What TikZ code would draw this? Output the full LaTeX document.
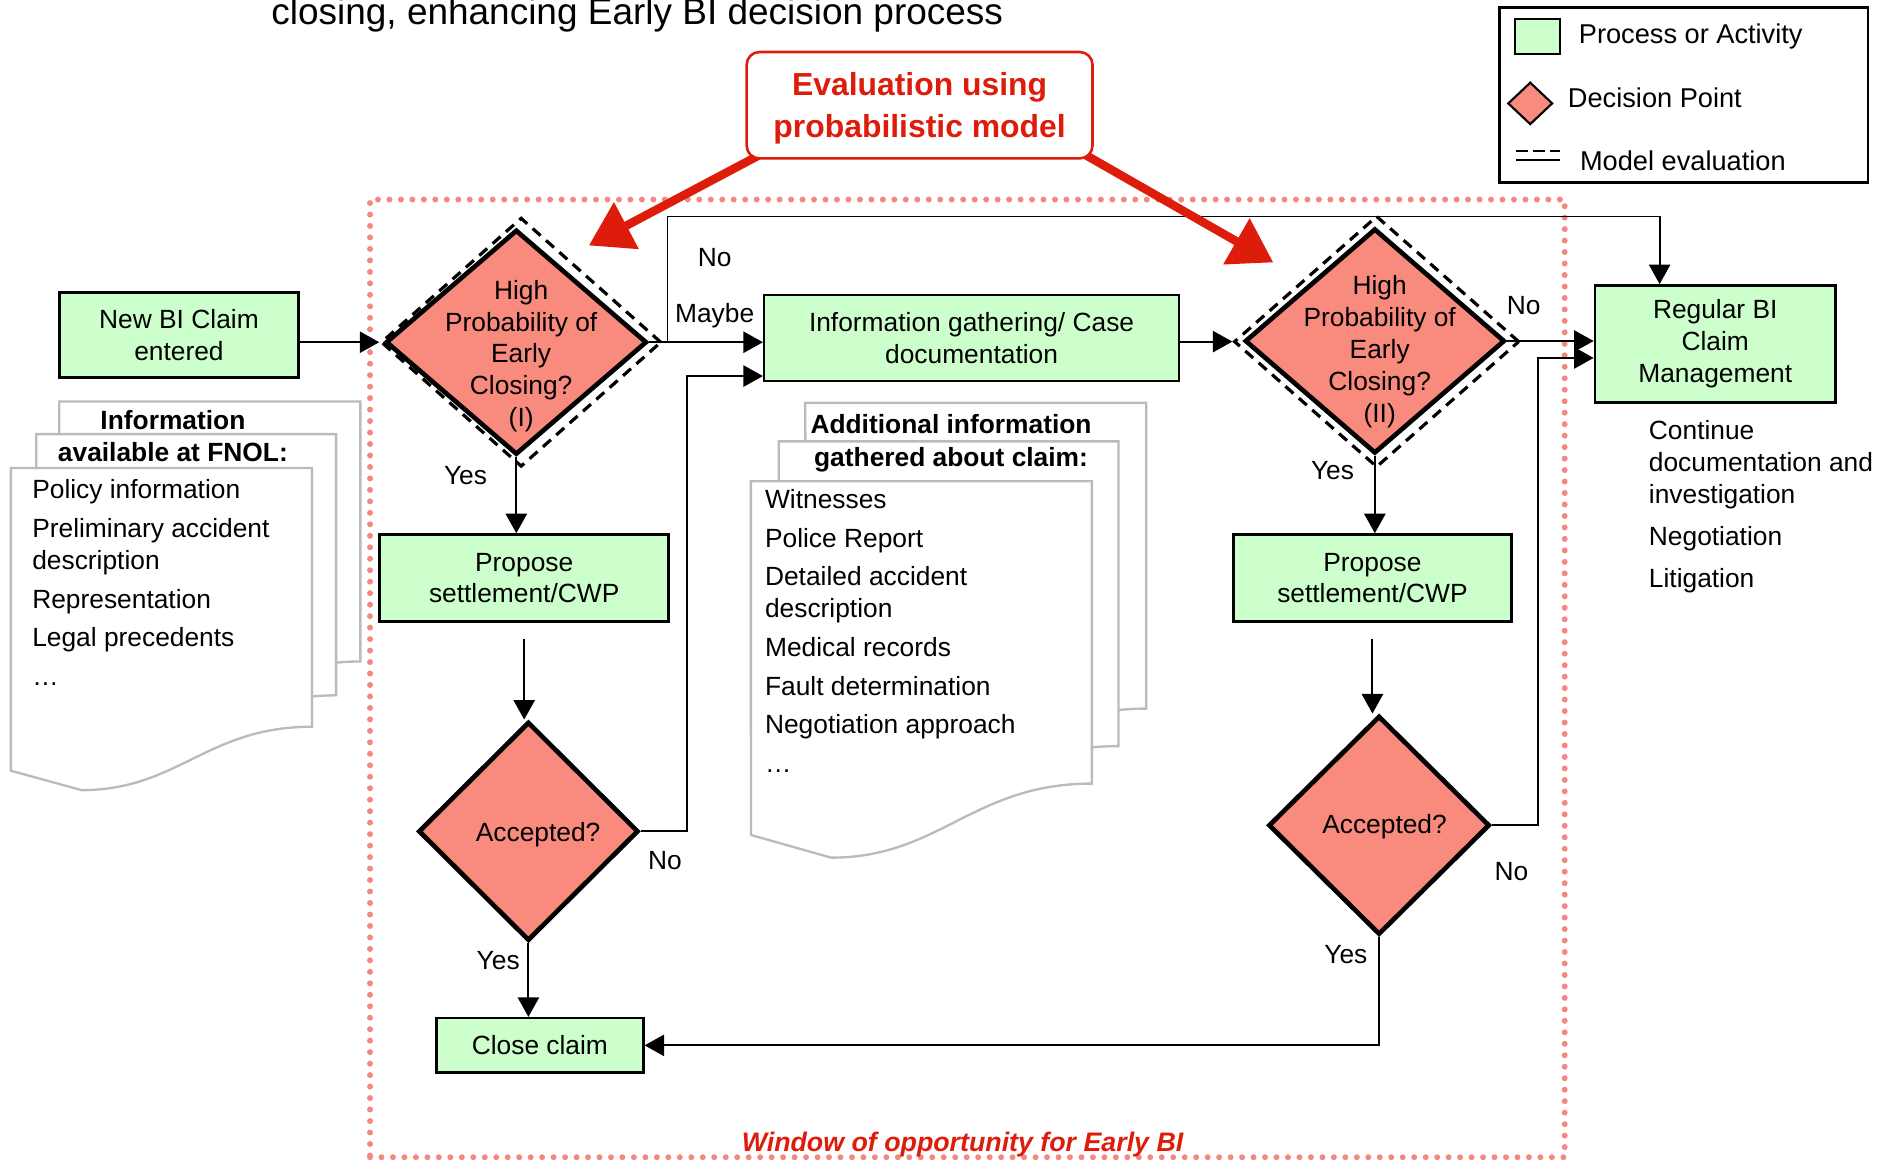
\documentclass[tikz,border=0pt]{standalone}
\usepackage{fontspec}
\setmainfont{Liberation Sans}
\usetikzlibrary{arrows.meta,positioning,shapes.geometric}

\definecolor{procgreen}{HTML}{CCFFCC}
\definecolor{decred}{HTML}{F88A7E}
\definecolor{evalred}{HTML}{DD1C0C}
\definecolor{winred}{HTML}{F4877F}
\definecolor{sheetgray}{HTML}{BBBBBB}

% one paper sheet with a wavy lower edge: top-left x, top-left y, width, right edge height
\newcommand{\docsheet}[4]{%
  \draw[sht] (#1,#2) -- ++(#3,0) -- ++(0,-#4)
    .. controls +(-0.35*#3,0) and +(0.32*#3,0) .. ++(-0.765*#3,-0.245*#4)
    -- ++(-0.235*#3,0.075*#4) -- cycle;}

\begin{document}
\begin{tikzpicture}[
  font=\fontsize{6.2}{7.5}\selectfont,
  proc/.style={draw,fill=procgreen,line width=0.6pt,inner sep=0pt,align=center},
  dec/.style={diamond,draw,fill=decred,line width=1.1pt,inner sep=0pt},
  mdl/.style={diamond,draw,dash pattern=on 2.5pt off 1.7pt,line width=0.75pt,inner sep=0pt},
  dtxt/.style={align=center,inner sep=0pt},
  flw/.style={line width=0.45pt,-{Triangle[length=4.6pt,width=5pt]}},
  lbl/.style={inner sep=0.5pt},
  sht/.style={draw=sheetgray,fill=white,line width=0.55pt},
  hd/.style={font=\fontsize{6.2}{7.6}\selectfont\bfseries,align=center,inner sep=0pt},
  lst/.style={align=left,inner sep=0pt},
  lgd/.style={font=\fontsize{6.4}{7.5}\selectfont,inner sep=0pt,anchor=base west},
  evb/.style={draw=evalred,fill=white,rounded corners=3pt,line width=0.6pt,inner sep=0pt},
  evt/.style={text=evalred,align=center,inner sep=0pt,font=\fontsize{7.5}{9.7}\selectfont\bfseries},
  eva/.style={draw=evalred,line width=2pt,-{Triangle[length=10pt,width=12pt,fill=evalred]}},
  wnd/.style={draw=winred,line width=1.4pt,line cap=round,dash pattern=on 0pt off 2.7pt},
  wtxt/.style={text=evalred,inner sep=0pt,font=\fontsize{6.3}{7.5}\selectfont\bfseries\itshape}
]
\useasboundingbox (0,0) rectangle (15.68,-9.60);

\node[anchor=base,inner sep=0pt,font=\fontsize{8.7}{10}\selectfont] (title) at (5.27,-0.20)
  {closing, enhancing Early BI decision process};

% window of opportunity
\node[wnd,minimum width=9.88cm,minimum height=7.92cm] (win) at (8.00,-5.61) {};
\node[wtxt,anchor=base] (wintxt) at ([xshift=-0.4mm,yshift=0.75mm]win.south)
  {Window of opportunity for Early BI};

% legend
\node[draw,line width=0.6pt,minimum width=3.05cm,minimum height=1.45cm] (legend) at (13.925,-0.785) {};
\node[proc,line width=0.5pt,minimum width=0.37cm,minimum height=0.29cm] (lgproc) at (12.715,-0.305) {};
\node[lgd] (lgproctxt) at (13.05,-0.36) {Process or Activity};
\node[dec,line width=0.5pt,minimum width=0.37cm,minimum height=0.35cm] (lgdec) at (12.655,-0.855) {};
\node[lgd] (lgdectxt) at (12.96,-0.887) {Decision Point};
\coordinate (lgm1) at (12.54,-1.25);
\coordinate (lgm2) at (12.90,-1.25);
\draw[dash pattern=on 2.8pt off 1.2pt,line width=0.5pt] (lgm1) -- (lgm2);
\draw[line width=0.5pt] ([yshift=-0.7mm]lgm1) -- ([yshift=-0.7mm]lgm2);
\node[lgd] (lgmtxt) at (13.06,-1.41) {Model evaluation};

% information sheets
\docsheet{0.49}{-3.32}{2.49}{2.15}
\docsheet{0.30}{-3.59}{2.48}{2.16}
\docsheet{0.09}{-3.87}{2.49}{2.14}
\node[hd] (fnolhead) at (1.43,-3.605) {Information\\available at FNOL:};
\node[lst,anchor=north west] (fnollist) at (0.26,-3.96)
  {Policy information\\[1.6pt]Preliminary accident\\description\\[1.6pt]Representation\\[1.6pt]Legal precedents\\[1.6pt]…};

\docsheet{6.66}{-3.33}{2.82}{2.53}
\docsheet{6.44}{-3.65}{2.81}{2.52}
\docsheet{6.21}{-3.98}{2.82}{2.50}
\node[hd] (addhead) at (7.865,-3.665) {Additional information\\gathered about claim:};
\node[lst,anchor=north west] (addlist) at (6.32,-4.04)
  {Witnesses\\[1.6pt]Police Report\\[1.6pt]Detailed accident\\description\\[1.6pt]Medical records\\[1.6pt]Fault determination\\[1.6pt]Negotiation approach\\[1.6pt]…};

% process boxes
\node[proc,minimum width=1.98cm,minimum height=0.70cm] (newc) at (1.48,-2.77) {New BI Claim\\entered};
\node[proc,minimum width=3.43cm,minimum height=0.71cm] (info) at (8.035,-2.795) {Information gathering/ Case\\documentation};
\node[proc,minimum width=1.99cm,minimum height=0.97cm] (regbi) at (14.185,-2.845) {Regular BI\\Claim\\Management};
\node[proc,minimum width=2.39cm,minimum height=0.72cm] (prop1) at (4.335,-4.78) {Propose\\settlement/CWP};
\node[proc,minimum width=2.30cm,minimum height=0.72cm] (prop2) at (11.35,-4.78) {Propose\\settlement/CWP};
\node[proc,minimum width=1.71cm,minimum height=0.45cm] (close) at (4.465,-8.645) {Close claim};
\node[lst,anchor=north west,below right=1.3mm and 4.5mm of regbi.south west] (regbilist)
  {Continue\\documentation and\\investigation\\[2.4pt]Negotiation\\[2.4pt]Litigation};

% decision points
\node[mdl,minimum width=2.32cm,minimum height=2.06cm] (hp1m) at (4.31,-2.83) {};
\node[dec,minimum width=2.16cm,minimum height=1.86cm] (hp1) at (4.27,-2.83) {};
\node[dtxt] (hp1txt) at ([shift={(0.04,-0.115)}]hp1) {High\\Probability of\\Early\\Closing?\\(I)};
\node[mdl,minimum width=2.36cm,minimum height=2.08cm] (hp2m) at (11.385,-2.825) {};
\node[dec,minimum width=2.15cm,minimum height=1.86cm] (hp2) at (11.37,-2.82) {};
\node[dtxt] (hp2txt) at ([shift={(0.04,-0.09)}]hp2) {High\\Probability of\\Early\\Closing?\\(II)};
\node[dec,minimum width=1.82cm,minimum height=1.81cm] (acc1) at (4.37,-6.875) {};
\node[dtxt] (acc1txt) at ([shift={(0.08,-0.025)}]acc1) {Accepted?};
\node[dec,minimum width=1.83cm,minimum height=1.81cm] (acc2) at (11.405,-6.825) {};
\node[dtxt] (acc2txt) at ([shift={(0.045,-0.015)}]acc2) {Accepted?};

% connectors
\coordinate (split1) at (5.52,-2.83);
\coordinate (nobend) at (5.52,-1.79);
\draw[flw] (newc.east |- hp1m.west) -- (hp1m.west);
\draw[line width=0.45pt] (hp1.east) -- (split1);
\draw[flw] (split1) -- (split1 -| info.west);
\draw[flw] (split1) -- (nobend) -| ([xshift=-4.6mm]regbi.north);
\draw[flw] (hp1.south) -- (hp1.south |- prop1.north);
\draw[flw] (info.east |- hp2m.west) -- (hp2m.west);
\draw[flw] (hp2.east) -- (hp2.east -| regbi.west);
\draw[flw] (hp2.south) -- (hp2.south |- prop2.north);
\draw[flw] ([yshift=-1.3mm]prop1.south) -- (prop1.south |- acc1.north);
\draw[flw] ([yshift=-1.3mm]prop2.south) -- (prop2.south |- acc2.north);
\draw[flw] (acc1.south) -- (acc1.south |- close.north);
\draw[flw] (acc1.east) -- ++(0.38,0) |- ([yshift=-3.15mm]info.west);
\draw[flw] (acc2.east) -- ++(0.38,0) |- ([yshift=-1.15mm]regbi.west);
\draw[flw] (acc2.south) |- (close.east);

\node[lbl] (hp1no) at (5.91,-2.13) {No};
\node[lbl] (hp1maybe) at (5.91,-2.61) {Maybe};
\node[lbl] (hp1yes) at (3.85,-3.93) {Yes};
\node[lbl] (hp2no) at (12.60,-2.53) {No};
\node[lbl] (hp2yes) at (11.02,-3.89) {Yes};
\node[lbl] (acc1no) at (5.50,-7.12) {No};
\node[lbl] (acc1yes) at (4.12,-7.94) {Yes};
\node[lbl] (acc2no) at (12.50,-7.21) {No};
\node[lbl] (acc2yes) at (11.13,-7.89) {Yes};

% model evaluation
\coordinate (tip1) at (4.87,-2.03);
\coordinate (tip2) at (10.53,-2.17);
\coordinate (evpos) at (7.605,-0.87);
\draw[eva] ([xshift=-1.32cm,yshift=-0.41cm]evpos) -- (tip1);
\draw[eva] ([xshift=1.37cm,yshift=-0.41cm]evpos) -- (tip2);
\node[evb,minimum width=2.86cm,minimum height=0.88cm] (ev) at (evpos) {};
\node[evt] (evtxt) at ([yshift=-0.25mm]ev) {Evaluation using\\probabilistic model};
\end{tikzpicture}
\end{document}
